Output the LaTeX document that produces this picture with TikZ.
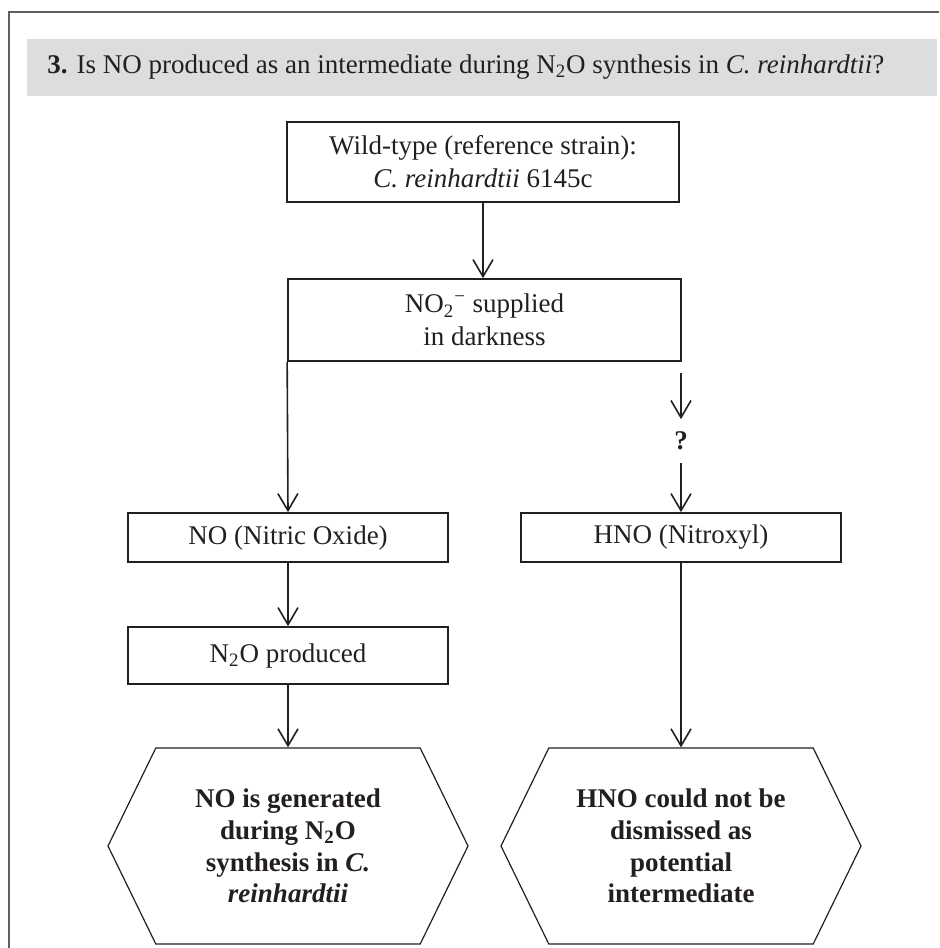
\documentclass[tikz,border=0pt]{standalone}
\usepackage{fontspec}
\setmainfont{Liberation Serif}
\usetikzlibrary{arrows.meta,shapes.symbols}
\definecolor{bandgray}{RGB}{220,221,222}
\definecolor{inkgray}{RGB}{35,31,32}
\definecolor{framegray}{RGB}{95,95,95}
\begin{document}
\begin{tikzpicture}[x=0.5pt,y=-0.5pt,
  box/.style={draw=inkgray,line width=0.85pt,text=inkgray,align=center,inner sep=0pt,
    font=\fontsize{13.5}{16.5}\selectfont},
  hexbox/.style={draw=inkgray,line width=0.6pt,signal,signal to=west and east,
    signal pointer angle=128,minimum width=180pt,minimum height=98pt,inner sep=0pt,
    align=center,text=inkgray,font=\fontsize{13.5}{15.8}\selectfont\bfseries},
  arr/.style={draw=inkgray,line width=0.8pt,-{Straight Barb[length=8.5pt,width=10pt]}}]
\useasboundingbox (0,0) rectangle (939,948);
\clip (0,0) rectangle (939,948);
%外框和标题
\draw[framegray,line width=1pt] (9,12) rectangle (980,990);
\fill[bandgray] (27,39) rectangle (937,96);
\node[anchor=base west,inner sep=0pt,text=inkgray,font=\fontsize{13.5}{16}\selectfont] (title) at (47,73)
  {\textbf{3.} Is NO produced as an intermediate during N\textsubscript{2}O synthesis in \textit{C. reinhardtii}?};
%流程框
\node[box,minimum width=196pt,minimum height=40pt] (wt) at (483,162)
  {Wild-type (reference strain):\\\textit{C. reinhardtii} 6145c};
\node[box,minimum width=196.5pt,minimum height=41pt] (sup) at (484.5,320)
  {NO\textsubscript{2}\textsuperscript{\char"2212} supplied\\in darkness};
\node[box,minimum width=160pt,minimum height=24.5pt] (nitric) at (288,537.5) {NO (Nitric Oxide)};
\node[box,minimum width=160pt,minimum height=24.5pt] (nitroxyl) at (681,537.5) {HNO (Nitroxyl)};
\node[box,minimum width=160pt,minimum height=28.5pt] (ntwoo) at (288,655.5) {N\textsubscript{2}O produced};
\coordinate (qtop) at (681,373);
\node[inner sep=0pt,minimum height=21.5pt,text=inkgray,font=\fontsize{13.5}{16}\selectfont\bfseries] (q) at (681,441) {?};
\node[hexbox] (hexa) at (288,846)
  {NO is generated\\during N\textsubscript{2}O\\synthesis in \textit{C.}\\\textit{reinhardtii}};
\node[hexbox] (hexb) at (681,846)
  {HNO could not be\\dismissed as\\potential\\intermediate};
%箭头
\draw[arr] (wt.south) -- (wt.south|-sup.north);
\draw[arr] (sup.south west) -- (nitric.north);
\draw[arr] (qtop) -- (q.north);
\draw[arr] (q.south) -- (nitroxyl.north);
\draw[arr] (nitric) -- (ntwoo);
\draw[arr] (ntwoo) -- (hexa);
\draw[arr] (nitroxyl) -- (hexb);
\end{tikzpicture}
\end{document}
